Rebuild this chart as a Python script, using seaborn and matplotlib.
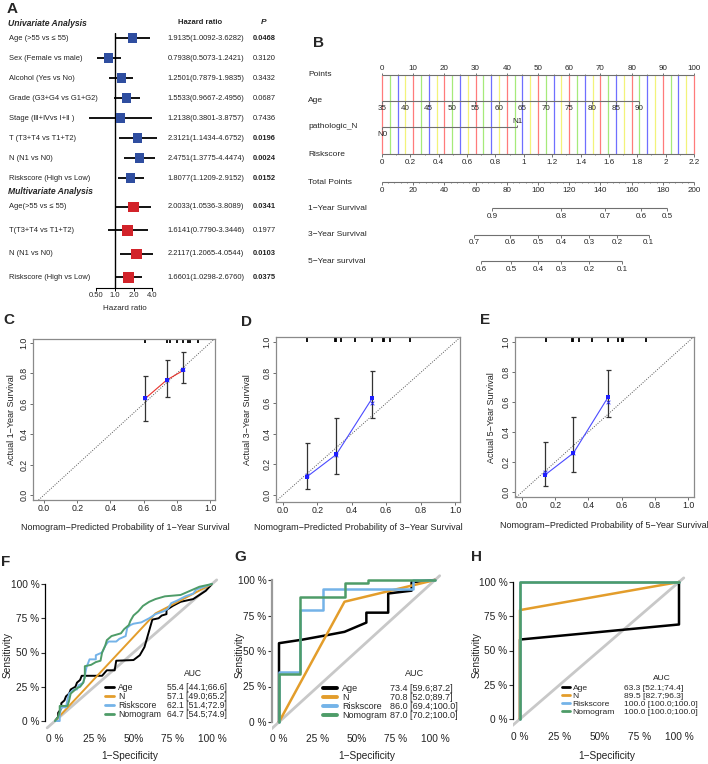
import numpy as np
import pandas as pd
import matplotlib
matplotlib.use("Agg")
import matplotlib.pyplot as plt
import matplotlib.transforms as mtransforms
from matplotlib.lines import Line2D
import seaborn as sns

W, H = 708, 764

# ---- A: Cox regression (forest plot)
uni_labels = ["Age (>55 vs ≤ 55)", "Sex (Female vs male)", "Alcohol (Yes vs No)",
              "Grade (G3+G4 vs G1+G2)", "Stage (Ⅲ+Ⅳvs Ⅰ+Ⅱ )", "T (T3+T4 vs T1+T2)",
              "N (N1 vs N0)", "Riskscore (High vs Low)"]
uni_hr = [1.9135, 0.7938, 1.2501, 1.5533, 1.2138, 2.3121, 2.4751, 1.8077]
uni_lo = [1.0092, 0.5073, 0.7879, 0.9667, 0.3801, 1.1434, 1.3775, 1.1209]
uni_hi = [3.6282, 1.2421, 1.9835, 2.4956, 3.8757, 4.6752, 4.4474, 2.9152]
uni_p = [0.0468, 0.3120, 0.3432, 0.0687, 0.7436, 0.0196, 0.0024, 0.0152]
multi_labels = ["Age(>55 vs ≤ 55)", "T(T3+T4 vs T1+T2)", "N (N1 vs N0)", "Riskscore (High vs Low)"]
multi_hr = [2.0033, 1.6141, 2.2117, 1.6601]
multi_lo = [1.0536, 0.7790, 1.2065, 1.0298]
multi_hi = [3.8089, 3.3446, 4.0544, 2.6760]
multi_p = [0.0341, 0.1977, 0.0103, 0.0375]
hr_ticks = [0.5, 1, 2, 4]
hr_ticklabels = ["0.50", "1.0", "2.0", "4.0"]

# ---- B: nomogram scales (values in "points", 0-100)
points_ticks = list(range(0, 101, 10))
age_ticks = list(range(35, 91, 5))
age_points_at_90 = 82.4
n_levels = ["N0", "N1"]
n_points = [0, 43.3]
risk_ticks = [0, 0.2, 0.4, 0.6, 0.8, 1, 1.2, 1.4, 1.6, 1.8, 2, 2.2]
total_ticks = list(range(0, 201, 20))
surv1_vals = [0.9, 0.8, 0.7, 0.6, 0.5]
surv1_total = [70.5, 115, 143, 166, 183]
surv3_vals = [0.7, 0.6, 0.5, 0.4, 0.3, 0.2, 0.1]
surv3_total = [59, 82, 100, 115, 133, 150.6, 171]
surv5_vals = [0.6, 0.5, 0.4, 0.3, 0.2, 0.1]
surv5_total = [63.5, 83, 100, 115, 133, 154]

# ---- C/D/E: calibration
cal1_pred = [0.61, 0.74, 0.84]
cal1_obs = [0.635, 0.757, 0.82]
cal1_lo = [0.49, 0.645, 0.74]
cal1_hi = [0.785, 0.89, 0.94]
cal1_corr = [0.635, 0.757, 0.83]
cal1_rug = [0.61, 0.74, 0.76, 0.80, 0.84, 0.87, 0.88, 0.93]
cal3_pred = [0.14, 0.31, 0.52]
cal3_obs = [0.12, 0.265, 0.635]
cal3_lo = [0.04, 0.135, 0.505]
cal3_hi = [0.34, 0.505, 0.81]
cal3_corr = [0.13, 0.26, 0.60]
cal3_rug = [0.14, 0.30, 0.31, 0.34, 0.42, 0.52, 0.58, 0.59, 0.62, 0.74]
cal5_pred = [0.14, 0.31, 0.52]
cal5_obs = [0.115, 0.26, 0.635]
cal5_lo = [0.04, 0.135, 0.50]
cal5_hi = [0.335, 0.50, 0.81]
cal5_corr = [0.13, 0.26, 0.60]
cal5_rug = [0.145, 0.30, 0.31, 0.345, 0.42, 0.52, 0.58, 0.60, 0.61, 0.75]

# ---- F/G/H: ROC curves (fpr, tpr)
roc_names = ["Age", "N", "Riskscore", "Nomogram"]
roc_palette = {"Age": "#000000", "N": "#E39D2B", "Riskscore": "#74B3E8", "Nomogram": "#4E9C68"}
f_age = [(0, 0), (0.02, 0.03), (0.02, 0.06), (0.04, 0.09), (0.04, 0.13), (0.06, 0.15), (0.07, 0.18),
         (0.09, 0.2), (0.1, 0.23), (0.13, 0.25), (0.14, 0.28), (0.16, 0.3), (0.17, 0.33), (0.30, 0.33),
         (0.33, 0.37), (0.38, 0.37), (0.39, 0.44), (0.50, 0.445), (0.54, 0.48), (0.57, 0.54),
         (0.59, 0.62), (0.61, 0.70), (0.62, 0.74), (0.66, 0.75), (0.68, 0.77), (0.71, 0.78),
         (0.71, 0.81), (0.75, 0.84), (0.80, 0.87), (0.88, 0.89), (0.92, 0.92), (0.96, 0.95), (1, 1)]
f_n = [(0, 0), (0.64, 0.785), (1, 1)]
f_risk = [(0, 0), (0.03, 0), (0.03, 0.05), (0.04, 0.1), (0.07, 0.1), (0.08, 0.16), (0.09, 0.2),
          (0.11, 0.22), (0.12, 0.23), (0.14, 0.23), (0.15, 0.26), (0.18, 0.28), (0.19, 0.33),
          (0.2, 0.39), (0.21, 0.42), (0.22, 0.45), (0.26, 0.45), (0.26, 0.48), (0.3, 0.5),
          (0.32, 0.55), (0.34, 0.58), (0.39, 0.58), (0.41, 0.60), (0.45, 0.62), (0.46, 0.68),
          (0.48, 0.70), (0.50, 0.71), (0.55, 0.72), (0.60, 0.75), (0.64, 0.78), (0.69, 0.80),
          (0.72, 0.82), (0.74, 0.86), (0.78, 0.88), (0.83, 0.91), (0.88, 0.93), (0.9, 0.96),
          (0.95, 0.98), (1, 1)]
f_nomo = [(0, 0), (0.02, 0.03), (0.03, 0.07), (0.03, 0.11), (0.08, 0.11), (0.09, 0.15), (0.1, 0.2),
          (0.12, 0.22), (0.14, 0.24), (0.16, 0.25), (0.18, 0.28), (0.19, 0.32), (0.19, 0.40),
          (0.23, 0.41), (0.26, 0.43), (0.29, 0.44), (0.30, 0.50), (0.32, 0.55), (0.33, 0.59),
          (0.36, 0.62), (0.42, 0.64), (0.44, 0.67), (0.47, 0.70), (0.48, 0.73), (0.50, 0.77),
          (0.53, 0.80), (0.56, 0.84), (0.60, 0.87), (0.64, 0.89), (0.70, 0.91), (0.80, 0.92),
          (0.86, 0.95), (0.92, 0.98), (1, 1)]
g_age = [(0, 0), (0, 0.555), (0.15, 0.58), (0.30, 0.61), (0.42, 0.635), (0.56, 0.70), (0.56, 0.77),
         (0.70, 0.77), (0.70, 0.905), (0.85, 0.925), (0.85, 0.985), (1, 1)]
g_n = [(0, 0), (0.42, 0.847), (1, 1)]
g_risk = [(0, 0), (0, 0.355), (0.135, 0.355), (0.135, 0.79), (0.285, 0.79), (0.285, 0.94),
          (0.86, 0.94), (0.86, 1), (1, 1)]
g_nomo = [(0, 0), (0, 0.34), (0.135, 0.34), (0.135, 0.88), (0.42, 0.88), (0.42, 0.977),
          (0.57, 0.977), (0.57, 1), (1, 1)]
h_age = [(0, 0), (0, 0.58), (1, 0.69), (1, 1)]
h_n = [(0, 0), (0, 0.795), (1, 1)]
h_risk = [(0, 0), (0, 1), (1, 1)]
h_nomo = [(0, 0), (0, 1), (1, 1)]
f_auc, f_auc_lo, f_auc_hi = [55.4, 57.1, 62.1, 64.7], [44.1, 49.0, 51.4, 54.5], [66.6, 65.2, 72.9, 74.9]
g_auc, g_auc_lo, g_auc_hi = [73.4, 70.8, 86.0, 87.0], [59.6, 52.0, 69.4, 70.2], [87.2, 89.7, 100.0, 100.0]
h_auc, h_auc_lo, h_auc_hi = [63.3, 89.5, 100.0, 100.0], [52.1, 82.7, 100.0, 100.0], [74.4, 96.3, 100.0, 100.0]
pct_ticks = [0, 0.25, 0.5, 0.75, 1]
y_pct_labels = ["0 %", "25 %", "50 %", "75 %", "100 %"]
x_pct_labels = ["0 %", "25 %", "50%", "75 %", "100 %"]

sns.set_theme(style="white")
plt.rcParams["font.family"] = ["Liberation Sans", "DejaVu Sans"]
plt.rcParams["axes.linewidth"] = 0.8

fig = plt.figure(figsize=(W / 100, H / 100), dpi=100)


def box(x0, y0, x1, y1):
    return [x0 / W, 1 - y1 / H, (x1 - x0) / W, (y1 - y0) / H]


def ftext(x, y, s, **kw):
    kw.setdefault("ha", "center")
    kw.setdefault("va", "center")
    fig.text(x / W, 1 - y / H, s, **kw)


def make_axes(left, top, right, bottom, xmap, ymap):
    ax = fig.add_axes(box(left, top, right, bottom))
    (px0, v0), (px1, v1) = xmap
    sx = (v1 - v0) / (px1 - px0)
    ax.set_xlim(v0 + (left - px0) * sx, v0 + (right - px0) * sx)
    (py0, w0), (py1, w1) = ymap
    sy = (w1 - w0) / (py1 - py0)
    ax.set_ylim(w0 + (bottom - py0) * sy, w0 + (top - py0) * sy)
    return ax


# panel letters
for lab, x, y in [("A", 12, 9), ("B", 318, 43), ("C", 9, 320), ("D", 246, 322), ("E", 485, 320),
                  ("F", 6, 562), ("G", 240, 557), ("H", 476, 557)]:
    ftext(x, y, lab, fontsize=11, fontweight="bold")

# ================= A
axA = fig.add_axes(box(84, 33, 162, 288))
axA.set_xscale("log", base=2)
axA.set_xlim(2 ** (-31 / 18.7), 2 ** (47 / 18.7))
axA.set_ylim(288, 33)
forest = pd.DataFrame({
    "label": uni_labels + multi_labels,
    "hr": uni_hr + multi_hr, "lo": uni_lo + multi_lo, "hi": uni_hi + multi_hi,
    "p": uni_p + multi_p,
    "group": ["Univariate"] * len(uni_labels) + ["Multivariate"] * len(multi_labels),
})
forest["row"] = np.r_[38 + 20 * np.arange(len(uni_labels)), 207 + 23.5 * np.arange(len(multi_labels))]
axA.axvline(1, color="black", lw=1.0, zorder=1)
axA.hlines(forest["row"], forest["lo"], forest["hi"], color="black", lw=1.3, zorder=2)
sns.scatterplot(data=forest, x="hr", y="row", hue="group", size="group",
                palette={"Univariate": "#2F4EA0", "Multivariate": "#D2232A"},
                sizes={"Univariate": 42, "Multivariate": 62}, marker="s", linewidth=0,
                legend=False, ax=axA, zorder=3)
axA.set(xlabel="", ylabel="")
for s in ["left", "top", "right"]:
    axA.spines[s].set_visible(False)
axA.spines["bottom"].set_color("black")
axA.spines["bottom"].set_bounds(0.5, 4)
axA.set_yticks([])
axA.set_xticks(hr_ticks)
axA.set_xticklabels(hr_ticklabels)
axA.minorticks_off()
axA.tick_params(axis="x", bottom=True, length=2, width=0.7, color="black", labelsize=5.5, pad=1)
tA = mtransforms.blended_transform_factory(fig.transFigure, axA.transData)
for _, r in forest.iterrows():
    axA.text(9 / W, r["row"], r["label"], transform=tA, fontsize=5.4, ha="left", va="center", color="#222222")
    axA.text(206 / W, r["row"], f"{r['hr']:.4f}({r['lo']:.4f}-{r['hi']:.4f})", transform=tA,
             fontsize=5.4, ha="center", va="center", color="#222222")
    axA.text(253 / W, r["row"], f"{r['p']:.4f}", transform=tA, fontsize=5.4, ha="left", va="center",
             fontweight="bold" if r["p"] < 0.05 else "normal", color="#222222")
ftext(8, 23, "Univariate Analysis", ha="left", fontsize=6.2, fontweight="bold", fontstyle="italic")
ftext(8, 192, "Multivariate Analysis", ha="left", fontsize=6.2, fontweight="bold", fontstyle="italic")
ftext(200, 22, "Hazard ratio", fontsize=5.5, fontweight="bold")
ftext(264, 22, "P", fontsize=6, fontweight="bold", fontstyle="italic")
ftext(125, 309, "Hazard ratio", fontsize=5.8)

# ================= B
axB = make_axes(300, 50, 708, 290, ((382, 0), (694, 100)), ((50, 50), (290, 290)))
axB.axis("off")
GREY = "#707070"
rows = {"Points": 75, "Age": 101, "pathologic_N": 127, "Riskscore": 154, "Total Points": 182,
        "1\u2212Year Survival": 208, "3\u2212Year Survival": 235, "5\u2212Year survival": 261}
for name, y in rows.items():
    axB.text((308 - 382) / 3.12, y, name, fontsize=6, ha="left", va="center")

grid_pts = np.arange(0, 100.01, 2.5)
grid_cols = ["#ff7b7b", "#a6ea7a", "#6f6fff", "#f3f37a"]
axB.vlines(grid_pts, rows["Points"], rows["Riskscore"],
           colors=[grid_cols[i % 4] for i in range(len(grid_pts))], lw=0.9, zorder=0)


def scale(y, pos, labels, side, minor=None):
    pos = np.asarray(pos, dtype=float)
    axB.hlines(y, pos.min(), pos.max(), color=GREY, lw=0.8)
    t = -2.5 if side == "up" else 2.5
    axB.vlines(pos, y, y + t, color=GREY, lw=0.7)
    if minor is not None:
        axB.vlines(minor, y, y + t * 0.5, color=GREY, lw=0.6)
    off = -6.5 if side == "up" else 8
    for p, lab in zip(pos, labels):
        axB.text(p, y + off, lab, fontsize=5.8, ha="center", va="center")


scale(rows["Points"], points_ticks, [str(v) for v in points_ticks], "up", minor=np.arange(5, 100, 10))
age_pos = [(a - age_ticks[0]) / (age_ticks[-1] - age_ticks[0]) * age_points_at_90 for a in age_ticks]
scale(rows["Age"], age_pos, [str(a) for a in age_ticks], "down")
yN = rows["pathologic_N"]
axB.hlines(yN, n_points[0], n_points[1], color=GREY, lw=0.8)
axB.vlines([n_points[0]], yN, yN + 2.5, color=GREY, lw=0.7)
axB.vlines([n_points[1]], yN, yN - 2.5, color=GREY, lw=0.7)
axB.text(n_points[0], yN + 7, n_levels[0], fontsize=5.8, ha="center", va="center")
axB.text(n_points[1], yN - 5.5, n_levels[1], fontsize=5.8, ha="center", va="center")
risk_pos = [v / risk_ticks[-1] * 100 for v in risk_ticks]
scale(rows["Riskscore"], risk_pos, [f"{v:g}" for v in risk_ticks], "down",
      minor=np.arange(0.1, 2.2, 0.2) / risk_ticks[-1] * 100)
scale(rows["Total Points"], [t / 2 for t in total_ticks], [str(t) for t in total_ticks], "down",
      minor=np.arange(0, 200, 4) / 2)
scale(rows["1\u2212Year Survival"], [t / 2 for t in surv1_total], [f"{v:.1f}" for v in surv1_vals], "down")
scale(rows["3\u2212Year Survival"], [t / 2 for t in surv3_total], [f"{v:.1f}" for v in surv3_vals], "down")
scale(rows["5\u2212Year survival"], [t / 2 for t in surv5_total], [f"{v:.1f}" for v in surv5_vals], "down")


# ================= C, D, E
def calib_panel(ax, pred, obs, lo, hi, corr, rug, line_color):
    obs = np.asarray(obs)
    ax.axline((0, 0), (1, 1), color="#555555", lw=0.7, ls=(0, (1, 1.5)), zorder=1)
    ax.vlines(rug, 1.0, ax.get_ylim()[1], color="black", lw=1.3, zorder=2)
    ax.errorbar(pred, obs, yerr=[obs - np.asarray(lo), np.asarray(hi) - obs], fmt="none",
                ecolor="#333333", elinewidth=0.9, capsize=1.8, capthick=0.9, zorder=3)
    sns.lineplot(x=pred, y=obs, color=line_color, lw=0.8, ax=ax, zorder=4)
    sns.scatterplot(x=pred, y=obs, color="#1f1fff", marker="s", s=7, linewidth=0, ax=ax, zorder=5)
    sns.scatterplot(x=pred, y=corr, color="#1f1fff", marker="x", s=7, linewidth=0.6, ax=ax, zorder=5)
    ax.set(xlabel="", ylabel="")
    for s in ax.spines.values():
        s.set_visible(True)
        s.set_color("#8a8a8a")
        s.set_linewidth(0.9)
    ticks = [0, 0.2, 0.4, 0.6, 0.8, 1.0]
    ax.set_xticks(ticks)
    ax.set_xticklabels([f"{t:.1f}" for t in ticks])
    ax.set_yticks(ticks)
    ax.set_yticklabels([f"{t:.1f}" for t in ticks], rotation=90, va="center")
    ax.tick_params(direction="out", length=2, width=0.6, color="#555555", labelsize=6.3, pad=1.2,
                   bottom=True, left=True, labelcolor="#222222")


axC = make_axes(33, 339, 215, 500, ((44, 0), (210, 1)), ((495, 0), (343, 1)))
calib_panel(axC, cal1_pred, cal1_obs, cal1_lo, cal1_hi, cal1_corr, cal1_rug, "#e8322b")
axD = make_axes(276, 337, 460, 502, ((283, 0), (455, 1)), ((495, 0), (342, 1)))
calib_panel(axD, cal3_pred, cal3_obs, cal3_lo, cal3_hi, cal3_corr, cal3_rug, "#4a4aff")
axE = make_axes(515, 337, 694, 497, ((522, 0), (688, 1)), ((492, 0), (342, 1)))
calib_panel(axE, cal5_pred, cal5_obs, cal5_lo, cal5_hi, cal5_corr, cal5_rug, "#4a4aff")
ftext(12, 420, "Actual 1\u2212Year Survival", rotation=90, fontsize=6.5, color="#222222")
ftext(125, 527, "Nomogram\u2212Predicted Probability of 1\u2212Year Survival", fontsize=6.5, color="#222222")
ftext(248, 420, "Actual 3\u2212Year Survival", rotation=90, fontsize=6.5, color="#222222")
ftext(358, 527, "Nomogram\u2212Predicted Probability of 3\u2212Year Survival", fontsize=6.5, color="#222222")
ftext(491, 418, "Actual 5\u2212Year Survival", rotation=90, fontsize=6.5, color="#222222")
ftext(604, 525, "Nomogram\u2212Predicted Probability of 5\u2212Year Survival", fontsize=6.5, color="#222222")


# ================= F, G, H
def roc_panel(ax, curves, aucs, los, his, spine_color, spine_lw, lw, leg):
    frames = []
    for name, pts in zip(roc_names, curves):
        arr = np.asarray(pts, dtype=float)
        frames.append(pd.DataFrame({"fpr": arr[:, 0], "tpr": arr[:, 1], "model": name}))
    df = pd.concat(frames, ignore_index=True)
    ax.plot([-0.05, 1.03], [-0.05, 1.03], color="#C8C8C8", lw=2, zorder=1)
    sns.lineplot(data=df, x="fpr", y="tpr", hue="model", hue_order=roc_names, palette=roc_palette,
                 sort=False, estimator=None, lw=lw, legend=False, ax=ax, zorder=2)
    ax.set(xlabel="", ylabel="")
    for s in ["top", "right", "bottom"]:
        ax.spines[s].set_visible(False)
    ax.spines["left"].set_color(spine_color)
    ax.spines["left"].set_linewidth(spine_lw)
    ax.spines["left"].set_bounds(0, 1)
    ax.set_yticks(pct_ticks)
    ax.set_yticklabels(y_pct_labels)
    ax.set_xticks(pct_ticks)
    ax.set_xticklabels(x_pct_labels)
    ax.tick_params(axis="y", left=True, length=3, width=0.8, color="#333333", labelsize=7.3, pad=1,
                   labelcolor="#222222")
    ax.tick_params(axis="x", bottom=False, length=0, labelsize=7.3, pad=3, labelcolor="#222222")
    fs, hl, htp, key_lw, x_key, x_val, y_top, x_head, y_head = leg
    handles = [Line2D([], [], color=roc_palette[n], lw=key_lw) for n in roc_names]
    l1 = ax.legend(handles, roc_names, loc="upper left", bbox_to_anchor=(x_key / W, 1 - y_top / H),
                   bbox_transform=fig.transFigure, frameon=False, fontsize=fs, handlelength=hl,
                   handletextpad=htp, labelspacing=0, borderpad=0, borderaxespad=0)
    ax.add_artist(l1)
    blanks = [Line2D([], [], alpha=0) for _ in roc_names]
    texts = [f"{a:.1f} [{l:.1f};{h:.1f}]" for a, l, h in zip(aucs, los, his)]
    ax.legend(blanks, texts, loc="upper left", bbox_to_anchor=(x_val / W, 1 - y_top / H),
              bbox_transform=fig.transFigure, frameon=False, fontsize=fs, handlelength=0,
              handletextpad=0, labelspacing=0, borderpad=0, borderaxespad=0)
    ftext(x_head, y_head, "AUC", fontsize=fs, color="#222222")


axF = make_axes(45, 576, 222, 730, ((55, 0), (212, 1)), ((721, 0), (584, 1)))
roc_panel(axF, [f_age, f_n, f_risk, f_nomo], f_auc, f_auc_lo, f_auc_hi, "black", 0.9, 1.4,
          (6.2, 1.1, 0.45, 2.0, 105, 167, 683, 193, 674))
axG = make_axes(272, 572, 445, 730, ((279, 0), (435, 1)), ((722, 0), (580, 1)))
roc_panel(axG, [g_age, g_n, g_risk, g_nomo], g_auc, g_auc_lo, g_auc_hi, "#9a9a9a", 1.6, 1.8,
          (6.5, 1.6, 0.5, 2.8, 323, 390, 684, 415, 673))
axH = make_axes(513, 574, 700, 728, ((520, 0), (679, 1)), ((719, 0), (582, 1)))
roc_panel(axH, [h_age, h_n, h_risk, h_nomo], h_auc, h_auc_lo, h_auc_hi, "black", 0.9, 1.8,
          (6.1, 0.9, 0.35, 2.0, 562, 624, 684, 662, 679))
for x, xl in [(8, 130), (240, 367), (477, 607)]:
    ftext(x, 655, "Sensitivity", rotation=90, fontsize=7.3, color="#222222")
    ftext(xl, 756, "1\u2212Specificity", fontsize=7.3, color="#222222")

fig.savefig("out.png", dpi=100)
